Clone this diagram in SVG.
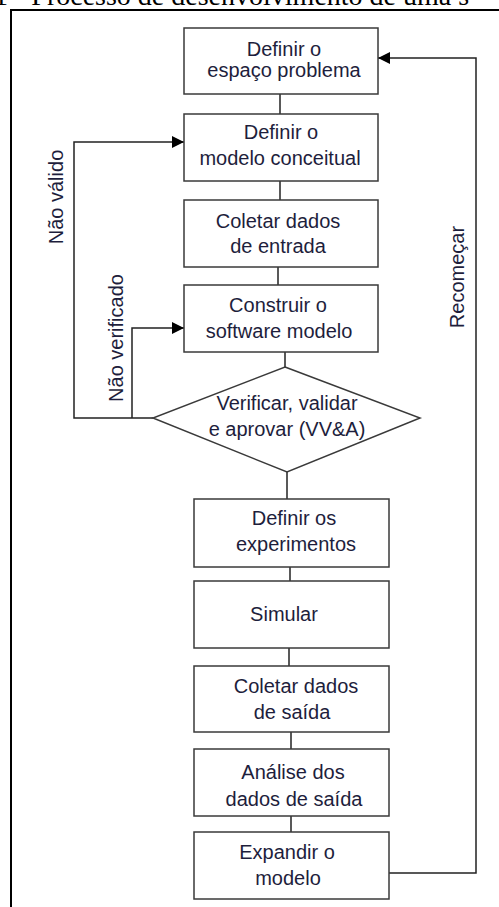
<svg xmlns="http://www.w3.org/2000/svg" width="499" height="907" viewBox="0 0 499 907">
<defs>
<marker id="arr" markerWidth="12" markerHeight="12" refX="12" refY="6" orient="auto" markerUnits="userSpaceOnUse">
<path d="M0,0 L12,6 L0,12 Z" fill="#000"/>
</marker>
<style>
.box{fill:#fff;stroke:#3a3a3a;stroke-width:1.5}
.t{font-family:"Liberation Sans",Arial,sans-serif;font-size:20px;fill:#1e1e3c;text-anchor:middle}
.c{fill:none;stroke:#222;stroke-width:1.5}
.cap{font-family:"Liberation Serif","Times New Roman",serif;font-size:28px;fill:#000}
</style>
</defs>
<rect width="499" height="907" fill="#fff"/>
<text class="cap" x="-6" y="5">1 - Processo de desenvolvimento de uma s</text>
<g id="frame">
<line x1="10" y1="10" x2="499" y2="10" stroke="#000" stroke-width="2"/>
<line x1="11" y1="9" x2="11" y2="907" stroke="#000" stroke-width="2"/>
</g>
<g id="connectors">
<line class="c" x1="280" y1="94" x2="280" y2="114"/>
<line class="c" x1="280" y1="181" x2="280" y2="200"/>
<line class="c" x1="278" y1="267" x2="278" y2="285"/>
<line class="c" x1="285" y1="352" x2="285" y2="367"/>
<line class="c" x1="287" y1="472" x2="287" y2="499"/>
<line class="c" x1="290" y1="567" x2="290" y2="581"/>
<line class="c" x1="289" y1="648" x2="289" y2="666"/>
<line class="c" x1="291" y1="732" x2="291" y2="749"/>
<line class="c" x1="291" y1="816" x2="291" y2="832"/>
<polyline class="c" points="153,418 74,418 74,142 184,142" marker-end="url(#arr)"/>
<polyline class="c" points="132,418 132,328 184,328" marker-end="url(#arr)"/>
<polyline class="c" points="389,873 476,873 476,58 378,58" marker-end="url(#arr)"/>
<text class="t" transform="translate(63,197) rotate(-90)">Não válido</text>
<text class="t" transform="translate(123,338) rotate(-90)">Não verificado</text>
<text class="t" transform="translate(464,277) rotate(-90)">Recomeçar</text>
</g>
<g id="n1"><rect class="box" x="184" y="28" width="194" height="66"/>
<text class="t" x="284" y="56">Definir o</text><text class="t" x="284" y="77">espaço problema</text></g>
<g id="n2"><rect class="box" x="184" y="114" width="194" height="67"/>
<text class="t" x="281" y="139">Definir o</text><text class="t" x="280" y="165">modelo conceitual</text></g>
<g id="n3"><rect class="box" x="184" y="200" width="194" height="67"/>
<text class="t" x="278" y="228">Coletar dados</text><text class="t" x="278" y="253">de entrada</text></g>
<g id="n4"><rect class="box" x="184" y="285" width="194" height="67"/>
<text class="t" x="278" y="312">Construir o</text><text class="t" x="279" y="338">software modelo</text></g>
<g id="n5"><polygon class="box" points="285,367 420,418 287,472 153,418"/>
<text class="t" x="287" y="410">Verificar, validar</text><text class="t" x="287" y="436">e aprovar (VV&amp;A)</text></g>
<g id="n6"><rect class="box" x="194" y="499" width="195" height="68"/>
<text class="t" x="294" y="525">Definir os</text><text class="t" x="296" y="551">experimentos</text></g>
<g id="n7"><rect class="box" x="194" y="581" width="195" height="67"/>
<text class="t" x="284" y="621">Simular</text></g>
<g id="n8"><rect class="box" x="194" y="666" width="195" height="66"/>
<text class="t" x="296" y="693">Coletar dados</text><text class="t" x="292" y="719">de saída</text></g>
<g id="n9"><rect class="box" x="194" y="749" width="195" height="67"/>
<text class="t" x="293" y="779">Análise dos</text><text class="t" x="294" y="806">dados de saída</text></g>
<g id="n10"><rect class="box" x="194" y="832" width="195" height="67"/>
<text class="t" x="287" y="859">Expandir o</text><text class="t" x="288" y="885">modelo</text></g>
</svg>
